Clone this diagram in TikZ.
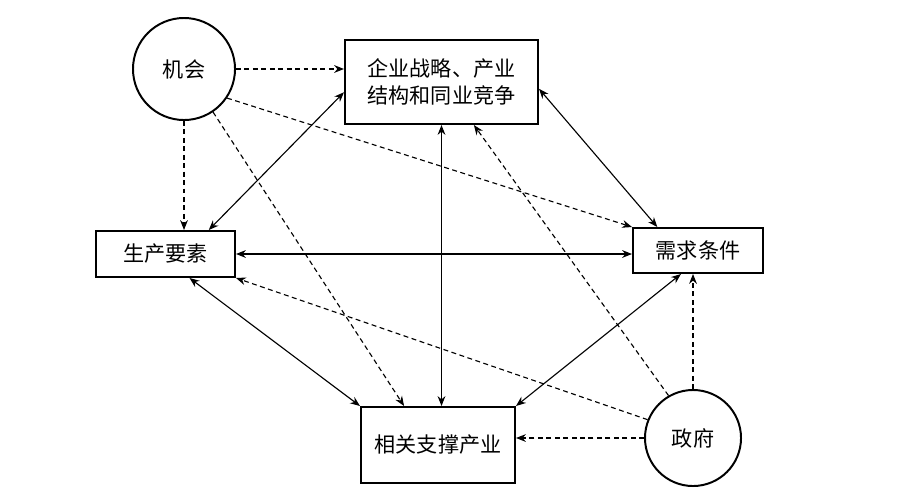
\documentclass[tikz,border=0pt]{standalone}
\usepackage{fontspec}
\setmainfont{Noto Sans CJK SC}
\usetikzlibrary{arrows.meta}

\begin{document}
\begin{tikzpicture}[x=0.025cm,y=-0.025cm,
        box/.style={draw,line width=1.4pt,align=center,inner sep=0pt,font=\fontsize{15}{19}\selectfont},
        ring/.style={draw,circle,line width=1.4pt,inner sep=0pt,font=\fontsize{15}{19}\selectfont},
        link/.style={{Stealth[length=7pt,width=5.5pt]}-{Stealth[length=7pt,width=5.5pt]},line width=0.8pt},
        dep/.style={-{Stealth[length=7pt,width=5.5pt]},line width=0.8pt,dash pattern=on 3.5pt off 2.5pt}]
                \useasboundingbox[fill=white] (0,0) rectangle (924,488);
                % the four corners and the two outside forces
                \node[ring,minimum size=2.55cm] (chance) at (184,69) {机会};
                \node[box,minimum width=4.825cm,minimum height=2.1cm] (strat) at (441.5,82) {企业战略、产业\\结构和同业竞争};
                \node[box,minimum width=3.475cm,minimum height=1.15cm] (factor) at (165.5,254) {生产要素};
                \node[box,minimum width=3.25cm,minimum height=1.125cm] (demand) at (698,250.5) {需求条件};
                \node[box,minimum width=3.85cm,minimum height=1.9cm] (related) at (438,445) {相关支撑产业};
                \node[ring,minimum size=2.4cm] (gov) at (693,438) {政府};
                % solid links between the corners
                \draw[link] (strat.186.5) -- (factor.29);
                \draw[link] (strat.south) -- (strat.south |- related.north);
                \draw[link] (strat.-4.7) -- (demand.150.6);
                \draw[link] (factor.east) -- (factor.east -| demand.west);
                \draw[link] (factor.-45.6) -- (related.north west);
                \draw[link] (demand.234.6) -- (related.north east);
                % dashed influences
                \draw[dep] (chance.east) -- (chance.east -| strat.west);
                \draw[dep] (chance.south) -- (chance.south |- factor.north);
                \draw[dep] (chance.-34) -- (demand.north west);
                \draw[dep] (chance.-56.6) -- (related.131.8);
                \draw[dep] (gov.north) -- (gov.north |- demand.south);
                \draw[dep] (gov.west) -- (gov.west -| related.east);
                \draw[dep] (gov.120) -- (strat.-53.1);
                \draw[dep] (gov.158.6) -- (factor.south east);
            \end{tikzpicture}
\end{document}
